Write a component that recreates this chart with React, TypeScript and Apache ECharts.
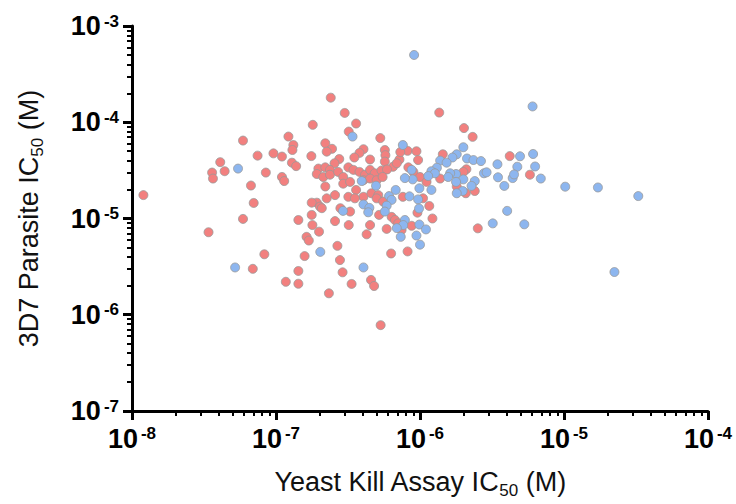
import React, { useEffect, useRef } from 'react';
import * as echarts from 'echarts';

// Axis ranges (molar) and tick exponents
const xRange: [number, number] = [1e-8, 1e-4];
const yRange: [number, number] = [1e-7, 1e-3];

const xTitleParts = ['Yeast Kill Assay IC', '50', ' (M)'];
const yTitleParts = ['3D7 Parasite IC', '50', ' (M)'];

// [Yeast Kill Assay IC50 (M), 3D7 Parasite IC50 (M)]
const redPoints: [number, number][] = [
  [1.2e-8, 1.75e-5], [3.4e-8, 7.2e-6], [3.6e-8, 3.0e-5], [3.65e-8, 2.6e-5],
  [4.1e-8, 3.85e-5], [4.4e-8, 3.1e-5], [5.9e-8, 6.45e-5], [5.9e-8, 9.9e-6],
  [6.7e-8, 2.2e-5], [7.0e-8, 1.45e-5], [7.45e-8, 4.5e-5], [8.5e-8, 3.0e-5],
  [9.6e-8, 4.75e-5], [1.1e-7, 4.4e-5], [1.1e-7, 2.7e-5], [1.14e-7, 2.45e-5],
  [1.22e-7, 7.1e-5], [1.32e-7, 5.8e-5], [1.3e-7, 5.15e-5], [1.29e-7, 3.8e-5],
  [1.38e-7, 3.5e-5], [8.3e-8, 4.25e-6], [6.9e-8, 3.0e-6], [1.17e-7, 2.2e-6],
  [1.43e-7, 2.1e-6], [1.43e-7, 2.85e-6], [1.43e-7, 9.65e-6], [2.4e-7, 1.8e-4],
  [3.0e-7, 1.25e-4], [3.6e-7, 9.7e-5], [1.8e-7, 9.4e-5], [3.2e-7, 8.0e-5],
  [5.3e-7, 6.85e-5], [2.2e-7, 6.05e-5], [2.45e-7, 5.3e-5], [2.25e-7, 4.95e-5],
  [1.76e-7, 4.45e-5], [4.05e-7, 5.25e-5], [3.8e-7, 4.8e-5], [3.5e-7, 4.3e-5],
  [4.5e-7, 4.1e-5], [2.75e-7, 4.15e-5], [2.55e-7, 3.75e-5], [1.97e-7, 3.3e-5],
  [2.2e-7, 3.4e-5], [2.37e-7, 3.2e-5], [1.92e-7, 2.9e-5], [2.13e-7, 2.7e-5],
  [2.37e-7, 2.85e-5], [2.7e-7, 3.05e-5], [2.93e-7, 2.7e-5], [3.18e-7, 3.4e-5],
  [3.45e-7, 3.2e-5], [3.8e-7, 3.05e-5], [4.15e-7, 2.85e-5], [4.5e-7, 3.2e-5],
  [4.85e-7, 2.95e-5], [5.4e-7, 3.15e-5], [2.2e-7, 2.15e-5], [2.93e-7, 2.3e-5],
  [3.27e-7, 2.4e-5], [4.05e-7, 2.5e-5], [4.5e-7, 2.6e-5], [5.0e-7, 2.5e-5],
  [3.6e-7, 1.98e-5], [4.05e-7, 1.68e-5], [3.18e-7, 1.68e-5], [3.53e-7, 1.62e-5],
  [2.57e-7, 1.75e-5], [2.25e-7, 1.62e-5], [1.92e-7, 1.46e-5], [1.77e-7, 1.46e-5],
  [2.02e-7, 1.33e-5], [2.08e-7, 1.28e-5], [4.6e-7, 1.83e-5], [5.13e-7, 1.75e-5],
  [5.0e-7, 1.62e-5], [2.8e-7, 1.28e-5], [3.27e-7, 1.18e-5], [1.77e-7, 1.09e-5],
  [5.2e-7, 1.09e-5], [4.5e-7, 8.55e-6], [4.26e-7, 6.85e-6], [3.2e-7, 8.55e-6],
  [2.57e-7, 9.4e-6], [1.79e-7, 8.55e-6], [1.99e-7, 7.3e-6], [1.63e-7, 6.45e-6],
  [1.69e-7, 5.9e-6], [2.67e-7, 5.2e-6], [1.58e-7, 4.07e-6], [2.78e-7, 3.7e-6],
  [2.9e-7, 2.76e-6], [3.35e-7, 2.09e-6], [4.57e-7, 2.3e-6], [4.8e-7, 1.99e-6],
  [2.33e-7, 1.67e-6], [5.33e-7, 7.8e-7], [5.55e-7, 1.5e-5], [5.87e-7, 7.8e-6],
  [6.35e-7, 1.04e-5], [6.7e-7, 9.65e-6], [7.05e-7, 8.9e-6], [6.3e-7, 4.33e-6],
  [8.2e-7, 4.55e-6], [5.7e-7, 5.15e-5], [5.75e-7, 4.55e-5], [5.7e-7, 3.9e-5],
  [8.2e-7, 5.05e-5], [9.45e-7, 5.0e-5], [7.2e-7, 4.1e-5], [9.7e-7, 4.05e-5],
  [6.5e-7, 3.45e-5], [5.9e-7, 3.23e-5], [5.5e-7, 2.7e-5], [6.9e-7, 3.75e-5],
  [8.3e-7, 3.4e-5], [9.0e-7, 3.05e-5], [1.0e-6, 2.7e-5], [1.11e-6, 2.4e-5],
  [7.6e-7, 1.68e-5], [1.05e-6, 1.62e-5], [1.16e-6, 1.35e-5], [9.6e-7, 1.15e-5],
  [1.22e-6, 1.0e-5], [8.75e-7, 8.4e-6], [7.45e-7, 7.6e-6], [1.36e-6, 1.26e-4],
  [2.02e-6, 8.7e-5], [2.32e-6, 7.05e-5], [1.44e-6, 4.65e-5], [2.1e-6, 3.25e-5],
  [2.0e-6, 3.05e-5], [1.38e-6, 2.6e-5], [1.8e-6, 2.15e-5], [2.08e-6, 1.83e-5],
  [2.4e-6, 1.93e-5], [4.2e-6, 4.45e-5], [5.8e-6, 2.85e-5], [2.52e-6, 7.9e-6],
  [7.3e-7, 4.9e-5],
];

const bluePoints: [number, number][] = [
  [5.45e-8, 3.3e-5], [5.2e-8, 3.1e-6], [9.1e-7, 5.0e-4], [3.4e-7, 7.1e-5],
  [7.6e-7, 5.8e-5], [6.05e-6, 1.46e-4], [2.0e-6, 5.5e-5], [1.8e-6, 4.65e-5],
  [1.68e-6, 4.3e-5], [1.38e-6, 4.0e-5], [1.53e-6, 3.8e-5], [1.31e-6, 3.37e-5],
  [1.2e-6, 3.1e-5], [1.27e-6, 2.95e-5], [1.14e-6, 2.76e-5], [2.12e-6, 4.2e-5],
  [2.35e-6, 4.05e-5], [2.65e-6, 3.95e-5], [1.78e-6, 2.9e-5], [1.62e-6, 2.95e-5],
  [8.75e-7, 3.2e-5], [8.9e-7, 2.55e-5], [7.85e-7, 2.63e-5], [1.57e-6, 2.7e-5],
  [2.0e-6, 2.55e-5], [1.78e-6, 2.4e-5], [2.4e-6, 2.45e-5], [2.28e-6, 2.18e-5],
  [1.98e-6, 1.93e-5], [1.8e-6, 1.83e-5], [2.78e-6, 2.95e-5], [2.9e-6, 3.02e-5],
  [3.45e-6, 3.66e-5], [4.95e-6, 4.43e-5], [6.1e-6, 4.68e-5], [4.74e-6, 3.45e-5],
  [6.3e-6, 3.47e-5], [4.4e-6, 2.63e-5], [4.5e-6, 2.87e-5], [6.9e-6, 2.6e-5],
  [3.48e-6, 2.68e-5], [3.85e-6, 2.18e-5], [1.02e-5, 2.14e-5], [1.72e-5, 2.1e-5],
  [3.28e-5, 1.71e-5], [4.03e-6, 1.2e-5], [3.2e-6, 8.9e-6], [5.3e-6, 8.7e-6],
  [2.24e-5, 2.78e-6], [1.2e-6, 1.98e-5], [6.1e-7, 1.71e-5], [6.35e-7, 1.56e-5],
  [5.87e-7, 1.36e-5], [5.7e-7, 1.18e-5], [8.45e-7, 1.7e-5], [9.7e-7, 1.58e-5],
  [9.85e-7, 1.27e-5], [9.9e-7, 8.65e-6], [7.85e-7, 9.65e-6], [7.65e-7, 8.55e-6],
  [6.9e-7, 7.95e-6], [7.35e-7, 6.45e-6], [9.45e-7, 6.65e-6], [1.0e-6, 5.35e-6],
  [1.1e-6, 7.7e-6], [4.05e-7, 1.4e-5], [4.45e-7, 1.29e-5], [4.37e-7, 1.16e-5],
  [2.92e-7, 1.2e-5], [4.95e-7, 2.19e-5], [3.94e-7, 2.45e-5], [6.78e-7, 1.98e-5],
  [9.9e-7, 2.06e-5], [2.03e-7, 4.5e-6], [4.05e-7, 3.1e-6],
];

const FONT = '"Liberation Sans", Arial, Helvetica, sans-serif';
const RED = '#F2807F';
const BLUE = '#8DB6EF';

export default function App() {
  const ref = useRef<HTMLDivElement>(null);

  useEffect(() => {
    if (!ref.current) return;
    const chart = echarts.init(ref.current, null, { renderer: 'svg' });

    const tickRich = {
      b: { fontSize: 27, fontWeight: 'bold', color: '#000', fontFamily: FONT },
      s: {
        fontSize: 17, fontWeight: 'bold', color: '#000', fontFamily: FONT,
        verticalAlign: 'top', padding: [0, 0, 0, 3],
      },
    };
    const titleRich = {
      t: { fontSize: 27, color: '#111', fontFamily: FONT, lineHeight: 34 },
      u: { fontSize: 17, color: '#111', fontFamily: FONT, verticalAlign: 'bottom' },
    };
    const expLabel = (v: number) => `{b|10}{s|${Math.round(Math.log10(v))}}`;
    const title = (p: string[]) => `{t|${p[0]}}{u|${p[1]}}{t|${p[2]}}`;

    const axisCommon = {
      type: 'log' as const,
      logBase: 10,
      axisLine: { show: true, onZero: false, lineStyle: { color: '#000', width: 3 } },
      axisTick: { show: true, inside: false, length: 9, lineStyle: { color: '#000', width: 3 } },
      minorTick: { show: true, splitNumber: 9, length: 5, lineStyle: { color: '#000', width: 2 } },
      splitLine: { show: false },
      minorSplitLine: { show: false },
      nameLocation: 'middle' as const,
      nameTextStyle: { rich: titleRich },
    };

    chart.setOption({
      animation: false,
      backgroundColor: '#fff',
      grid: {
        left: 132, right: 28, top: 26, bottom: 93,
        containLabel: false, outerBoundsMode: 'none',
      },
      xAxis: {
        ...axisCommon,
        min: xRange[0], max: xRange[1],
        position: 'bottom',
        axisLabel: {
          formatter: expLabel, rich: tickRich, margin: 14,
          showMinLabel: true, showMaxLabel: true,
        },
        name: title(xTitleParts),
        nameGap: 54,
      },
      yAxis: {
        ...axisCommon,
        min: yRange[0], max: yRange[1],
        position: 'left',
        axisLabel: {
          formatter: expLabel, rich: tickRich, margin: 13,
          showMinLabel: true, showMaxLabel: true,
        },
        name: title(yTitleParts),
        nameRotate: 90,
        nameGap: 86,
      },
      series: [
        {
          type: 'scatter',
          data: redPoints,
          symbol: 'circle',
          symbolSize: 9,
          itemStyle: { color: RED, borderColor: '#999', borderWidth: 0.8, opacity: 1 },
        },
        {
          type: 'scatter',
          data: bluePoints,
          symbol: 'circle',
          symbolSize: 9,
          itemStyle: { color: BLUE, borderColor: '#999', borderWidth: 0.8, opacity: 1 },
        },
      ],
    });

    return () => chart.dispose();
  }, []);

  return (
    <div
      ref={ref}
      style={{ position: 'fixed', left: 0, top: 0, width: 736, height: 504, background: '#fff' }}
    />
  );
}
